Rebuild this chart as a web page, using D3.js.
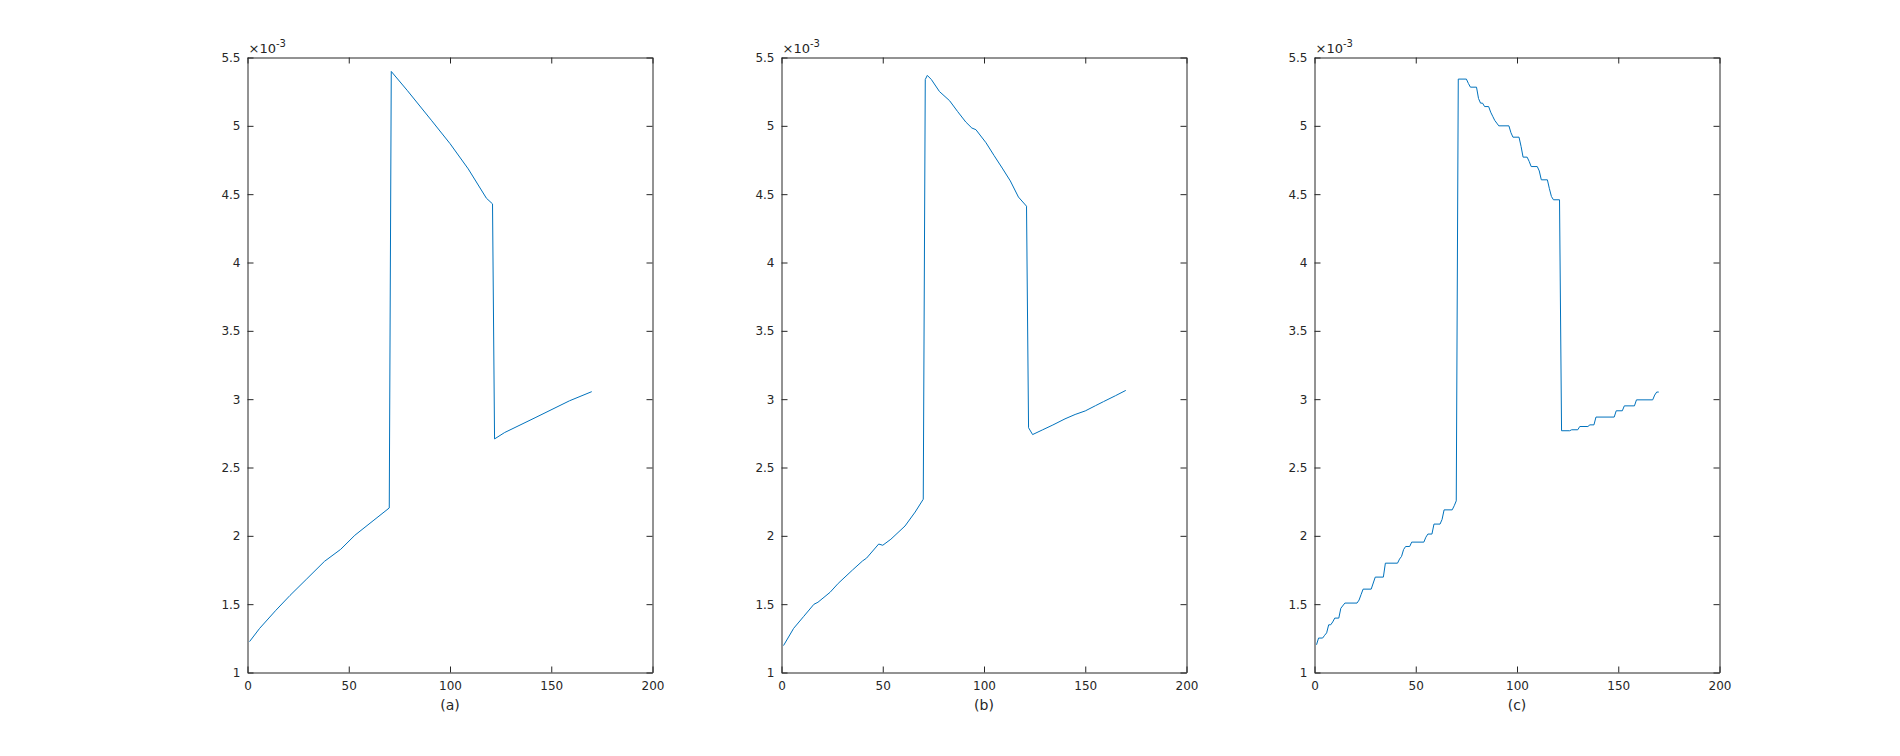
<html>
<head>
<meta charset="utf-8">
<script src="https://d3js.org/d3.v7.min.js"></script>
<style>
body { margin:0; background:#fff; }
.axis text { font: 12px "DejaVu Sans", sans-serif; fill:#262626; }
.axis path, .axis line { stroke:#262626; }
</style>
</head>
<body>
<svg width=1900 height=756></svg>
<script>
// values, y in units of 1e-3
const xTicks = [0, 50, 100, 150, 200];
const yTicks = [1, 1.5, 2, 2.5, 3, 3.5, 4, 4.5, 5, 5.5];
const panelLabels = ["(a)", "(b)", "(c)"];

const aX = [1, 6, 14, 21, 29, 38, 46, 53, 62, 70, 71, 79, 91, 100, 109, 118, 121, 122, 127, 142, 159, 170];
const aY = [1.226, 1.323, 1.455, 1.564, 1.681, 1.813, 1.901, 2.004, 2.11, 2.204, 5.398, 5.257, 5.037, 4.87, 4.685, 4.47, 4.429, 2.709, 2.756, 2.864, 2.988, 3.055];

const bX = [1, 6, 11, 16, 18, 24, 28, 35, 40, 42, 48, 50, 54, 61, 66, 70, 71, 72, 74, 78, 83, 87, 91, 94, 96, 101, 105, 109, 113, 117, 121, 122, 124, 129, 134, 140, 145, 150, 155, 159, 165, 170];
const bY = [1.197, 1.323, 1.411, 1.499, 1.514, 1.587, 1.652, 1.749, 1.816, 1.837, 1.94, 1.931, 1.975, 2.072, 2.174, 2.268, 5.339, 5.369, 5.339, 5.251, 5.184, 5.104, 5.028, 4.984, 4.972, 4.876, 4.782, 4.691, 4.597, 4.479, 4.412, 2.791, 2.741, 2.776, 2.811, 2.856, 2.888, 2.914, 2.952, 2.982, 3.026, 3.064];

const cX = [1, 2, 4, 5, 6, 7, 8, 9, 10, 12, 13, 15, 21, 22, 23, 24, 28, 30, 34, 35, 41, 42, 43, 44, 45, 47, 48, 54, 55, 56, 58, 59, 62, 63, 64, 68, 69, 70,
  71, 75, 76, 77, 80, 81, 82, 83, 84, 86, 87, 88, 89, 90, 91, 96, 97, 98, 101, 102, 103, 105, 106, 107, 110, 111, 112, 115, 116, 117, 118, 121,
  122, 126, 127, 130, 131, 135, 136, 138, 139, 148, 149, 152, 153, 158, 159, 167, 168, 169, 170];
const cY = [1.203, 1.252, 1.252, 1.272, 1.29, 1.349, 1.349, 1.37, 1.398, 1.398, 1.47, 1.508, 1.508, 1.53, 1.57, 1.61, 1.61, 1.698, 1.698, 1.8, 1.8, 1.83, 1.85, 1.9, 1.922, 1.922, 1.954, 1.954, 1.99, 2.013, 2.013, 2.086, 2.086, 2.12, 2.19, 2.19, 2.22, 2.256,
  5.342, 5.342, 5.31, 5.283, 5.283, 5.2, 5.166, 5.166, 5.141, 5.141, 5.1, 5.07, 5.04, 5.02, 5.0, 5.0, 4.95, 4.917, 4.917, 4.85, 4.771, 4.771, 4.74, 4.702, 4.702, 4.67, 4.605, 4.605, 4.54, 4.483, 4.459, 4.459,
  2.769, 2.769, 2.776, 2.776, 2.8, 2.8, 2.812, 2.812, 2.869, 2.869, 2.915, 2.915, 2.951, 2.951, 2.995, 2.995, 3.03, 3.052, 3.052];

var svg = d3.select("svg");
var top0 = 57.5, innerheight = 615, innerwidth = 405;
var lefts = [247.5, 781.5, 1314.5];
var series = [[aX, aY], [bX, bY], [cX, cY]];

var y = d3.scaleLinear().domain([1, 5.5]).range([innerheight, 0]);

series.forEach(function(s, i) {
	var x = d3.scaleLinear().domain([0, 200]).range([0, innerwidth]);
	var g = svg.append("g").attr("transform", "translate(" + lefts[i] + "," + top0 + ")");

	g.append("g").attr("class", "axis")
		.attr("transform", "translate(0," + innerheight + ")")
		.call(d3.axisBottom(x).tickValues(xTicks).tickSizeInner(-6).tickSizeOuter(0).tickPadding(9));
	g.append("g").attr("class", "axis")
		.call(d3.axisTop(x).tickValues(xTicks).tickSizeInner(-6).tickSizeOuter(0).tickFormat(""));
	g.append("g").attr("class", "axis")
		.call(d3.axisLeft(y).tickValues(yTicks).tickSizeInner(-6).tickSizeOuter(0).tickPadding(7).tickFormat(d3.format("")));
	g.append("g").attr("class", "axis")
		.attr("transform", "translate(" + innerwidth + ",0)")
		.call(d3.axisRight(y).tickValues(yTicks).tickSizeInner(-6).tickSizeOuter(0).tickFormat(""));

	// exponent label
	var ex = g.append("text")
		.attr("x", 1).attr("y", -5)
		.style("font", "13px 'DejaVu Sans', sans-serif")
		.style("fill", "#262626");
	ex.append("tspan").text("\u00d710");
	ex.append("tspan").attr("dy", -6).style("font-size", "10px").text("-3");

	// panel label
	g.append("text")
		.attr("x", innerwidth / 2).attr("y", innerheight + 37)
		.attr("text-anchor", "middle")
		.style("font", "14px 'DejaVu Sans', sans-serif")
		.style("fill", "#262626")
		.text(panelLabels[i]);

	var line = d3.line()
		.x(function(d) { return x(d[0]); })
		.y(function(d) { return y(d[1]); });
	g.append("path")
		.datum(d3.zip(s[0], s[1]))
		.attr("fill", "none")
		.attr("stroke", "#0072BD")
		.attr("stroke-width", 1)
		.attr("d", line);
});
</script>
</body>
</html>
